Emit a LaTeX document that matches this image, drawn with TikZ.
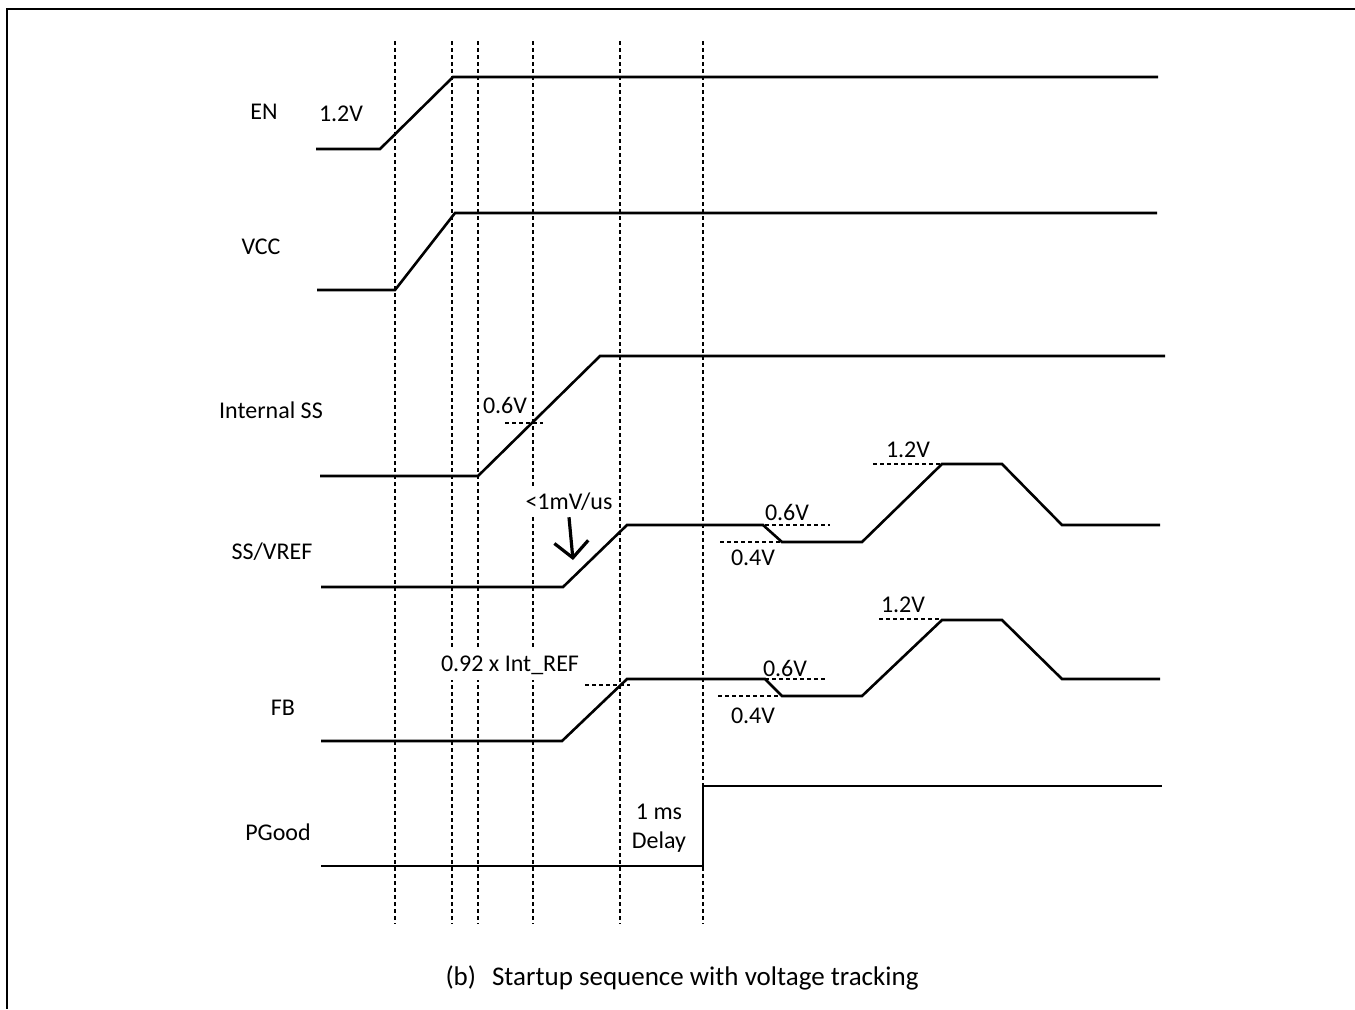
\documentclass[tikz,border=0pt]{standalone}
\usepackage{fontspec}
\setmainfont{Carlito}
\usetikzlibrary{arrows.meta}

\begin{document}
\begin{tikzpicture}[
    x=0.5pt, y=-0.5pt,
    wave/.style={line width=1.3pt, line join=miter},
    guide/.style={line width=1.2pt, dash pattern=on 2pt off 1.5pt},
    level/.style={line width=1.2pt, dash pattern=on 2pt off 1.5pt},
    frame/.style={line width=1.3pt},
    sig/.style={inner sep=1pt, font=\fontsize{12}{14}\selectfont},
    volt/.style={inner sep=1pt, font=\fontsize{12}{14.5}\selectfont},
    mask/.style={fill=white, inner sep=3pt, font=\fontsize{12}{14}\selectfont},
    slew/.style={-{Straight Barb[length=8pt, width=17pt]}, line width=1.6pt}
]
\useasboundingbox (0,0) rectangle (1355,1009);

% frame
\draw[frame] (1355,9) -- (7,9) -- (7,1009);

% time markers
\draw[guide] (395,41) -- (395,924);
\draw[guide] (452,41) -- (452,924);
\draw[guide] (478,41) -- (478,924);
\draw[guide] (533,41) -- (533,924);
\draw[guide] (620,41) -- (620,924);
\draw[guide] (703,41) -- (703,924);

% signal names
\node[sig] (en) at (264,112) {EN};
\node[sig] (vcc) at (261,247) {VCC};
\node[sig] (iss) at (271,410) {Internal SS};
\node[sig] (ssv) at (272,552) {SS/VREF};
\node[sig] (fb) at (283,708) {FB};
\node[sig] (pg) at (278,832) {PGood};

% threshold labels
\node[volt] (en12) at (341,114) {1.2V};
\node[volt] (iss06) at (505,405) {0.6V};
\node[mask] (slewlbl) at (569,502) {<1mV/us};
\node[volt] (ssv06) at (787,512) {0.6V};
\node[volt] (ssv04) at (753,558) {0.4V};
\node[volt] (ssv12) at (908,450) {1.2V};
\node[mask] (fbref) at (510,665) {0.92 x Int\_REF};
\node[volt] (fb06) at (785,668) {0.6V};
\node[volt] (fb04) at (753,716) {0.4V};
\node[volt] (fb12) at (903,605) {1.2V};
\node[volt, align=center] (delay) at (659,828) {1 ms\\Delay};

% threshold levels
\draw[level] (505,423) -- (543,423);
\draw[level] (765,525) -- (830,525);
\draw[level] (720,542) -- (782,542);
\draw[level] (873,464) -- (942,464);
\draw[level] (585,685) -- (630,685);
\draw[level] (758,679) -- (827,679);
\draw[level] (718,696) -- (782,696);
\draw[level] (879,619) -- (942,619);

% waveforms
\draw[wave] (316,149) -- (380,149) -- (453,77) -- (1158,77);
\draw[wave] (317,290) -- (395,290) -- (455,213) -- (1157,213);
\draw[wave] (320,476) -- (478,476) -- (600,356) -- (1165,356);
\draw[wave] (321,587) -- (563,587) -- (627,525) -- (763,525) -- (782,542) -- (862,542)
    -- (942,464) -- (1002,464) -- (1062,525) -- (1160,525);
\draw[wave] (321,741) -- (562,741) -- (627,679) -- (765,679) -- (782,696) -- (862,696)
    -- (942,620) -- (1002,620) -- (1062,679) -- (1160,679);
\draw[wave] (321,866) -- (703,866) -- (703,786) -- (1162,786);

% slew rate arrow
\coordinate (slewtip) at (573,560);
\draw[slew] (slewlbl.south) -- (slewtip);

% caption
\node[font=\fontsize{13.5}{16}\selectfont] (caption) at (682,978) {(b)\hspace{8pt}Startup sequence with voltage tracking};

\end{tikzpicture}
\end{document}
